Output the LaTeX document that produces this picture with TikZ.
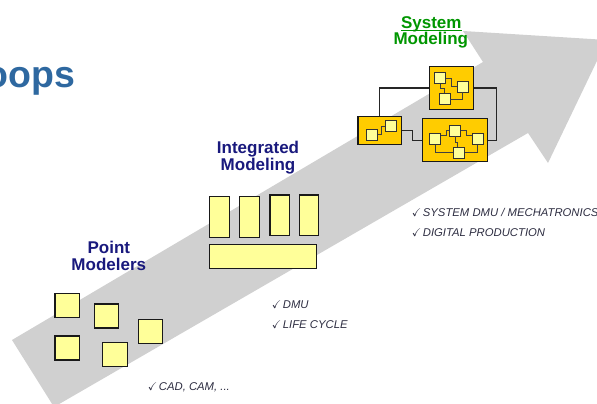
\documentclass[tikz,border=0pt]{standalone}
\usepackage{amssymb}
\usepackage{fontspec}
\setmainfont{Liberation Sans}
\usetikzlibrary{positioning}

\definecolor{arrowgray}{RGB}{208,208,208}
\definecolor{paleyellow}{RGB}{255,255,153}
\definecolor{gold}{RGB}{255,204,0}
\definecolor{titleblue}{RGB}{46,104,160}
\definecolor{navy}{RGB}{25,25,125}
\definecolor{sysgreen}{RGB}{0,150,0}
\definecolor{notegray}{RGB}{45,45,65}

\newcommand{\tickmark}{\makebox[11pt][l]{$\checkmark$}}

\begin{document}
\begin{tikzpicture}[
    x=1pt, y=-1pt,
    block/.style={draw=black!90, line width=1.1pt, fill=paleyellow, inner sep=0pt},
    point/.style={block, minimum width=24.5pt, minimum height=24pt},
    bar/.style={block, minimum width=19.4pt, minimum height=40.7pt},
    sysbox/.style={block, fill=gold},
    part/.style={draw=black!80, line width=0.8pt, fill=paleyellow, inner sep=0pt, minimum size=11pt},
    wire/.style={draw=black!85, line width=1.1pt},
    innerwire/.style={draw=black!75, line width=0.8pt},
    heading/.style={font=\fontsize{17}{17}\selectfont\bfseries, text=navy, align=center, inner sep=0pt},
    note/.style={font=\fontsize{11.3}{14}\selectfont\itshape, text=notegray, anchor=base west, inner sep=0pt}
  ]

  \useasboundingbox (0,0) rectangle (597,404);
  \clip (0,0) rectangle (597,404);

  % big arrow
  \fill[arrowgray] (12,340) -- (483,62) -- (463,31) -- (607,40) -- (548,163)
    -- (528,133) -- (54,407) -- cycle;

  \node[font=\fontsize{37.5}{38}\selectfont\bfseries, text=titleblue, anchor=base west, inner sep=0pt]
    (title) at (-14.5,87.5) {oops};

  % point modelers
  \node[heading, anchor=north] (pointlbl) at (108.8,240.8) {Point\\Modelers};
  \node[point] (pm1) at (67.2,305.8) {};
  \node[point] (pm2) at (106.5,316) {};
  \node[point] (pm3) at (150.5,331.2) {};
  \node[point] (pm4) at (67.2,348) {};
  \node[point] (pm5) at (115,354.8) {};

  % integrated modeling
  \node[heading, anchor=north, font=\fontsize{17}{15}\selectfont\bfseries] (intlbl) at (258,141.1) {Integrated\\Modeling};
  \node[bar] (bar1) at (219.5,216.8) {};
  \node[bar, right=9.6pt of bar1] (bar2) {};
  \node[bar, right=9.6pt of bar2, yshift=1.5pt] (bar3) {};
  \node[bar, right=9pt of bar3] (bar4) {};
  \node[block, minimum width=107pt, minimum height=24pt] (base) at (263.3,256.8) {};

  % system modeling
  \node[heading, text=sysgreen, anchor=base] (syslbl) at (431.3,28.3) {System};
  \node[heading, text=sysgreen, anchor=base] (modlbl) at (430.8,44.3) {Modeling};
  \draw[sysgreen, line width=1.3pt] ([yshift=-2.4pt]syslbl.base west) -- ([yshift=-2.4pt]syslbl.base east);

  \node[sysbox, minimum width=43.4pt, minimum height=43pt] (sysA) at (451.5,88) {};
  \node[sysbox, minimum width=43.8pt, minimum height=27.7pt] (sysB) at (379.9,130.3) {};
  \node[sysbox, minimum width=65pt, minimum height=43pt] (sysC) at (455.3,140.3) {};

  \draw[wire] (sysB.north) |- (sysA.west);
  \draw[wire] (sysA.east) -- ++(22.6,0) |- (sysC.east);
  \draw[wire] (sysB.east) -- ++(10.4,0) |- (sysC.west);

  \node[part] (a1) at (440,78.3) {};
  \node[part] (a2) at (462.8,86.5) {};
  \node[part] (a3) at (444.5,99.2) {};
  \node[part] (b1) at (372.2,134.8) {};
  \node[part] (b2) at (390.9,126.2) {};
  \node[part] (c1) at (455.2,130.4) {};
  \node[part] (c2) at (435.2,138.8) {};
  \node[part] (c3) at (477.7,138.8) {};
  \node[part] (c4) at (459.2,152.8) {};

  \draw[innerwire] (a1.east) -- ++(5.7,0) |- (a2.west);
  \draw[innerwire] (a1.south) -- ++(0,4) -| (a3.north);
  \draw[innerwire] (a3.east) -| (a2.south);
  \draw[innerwire] (b1.east) -- ++(3.7,0) |- (b2.west);
  \draw[innerwire] ([yshift=3.5pt]c2.east) -- ++(5.7,0) |- (c1.west);
  \draw[innerwire] (c1.east) -- ++(5.7,0) |- ([yshift=3.5pt]c3.west);
  \draw[innerwire] (c1.south) -- ++(0,6) -| ([xshift=-1.5pt]c4.north);
  \draw[innerwire] (c2.south) |- (c4.west);
  \draw[innerwire] (c4.east) -| (c3.south);

  % notes
  \node[note] (cad) at (147.7,390.7) {\tickmark CAD, CAM, ...};
  \node[note] (dmu) at (271.7,308.3) {\tickmark DMU};
  \node[note] (life) at (271.7,328.3) {\tickmark LIFE CYCLE};
  \node[note] (sysdmu) at (411.7,216.7) {\tickmark SYSTEM DMU / MECHATRONICS};
  \node[note] (digital) at (411.7,236) {\tickmark DIGITAL PRODUCTION};
\end{tikzpicture}
\end{document}
